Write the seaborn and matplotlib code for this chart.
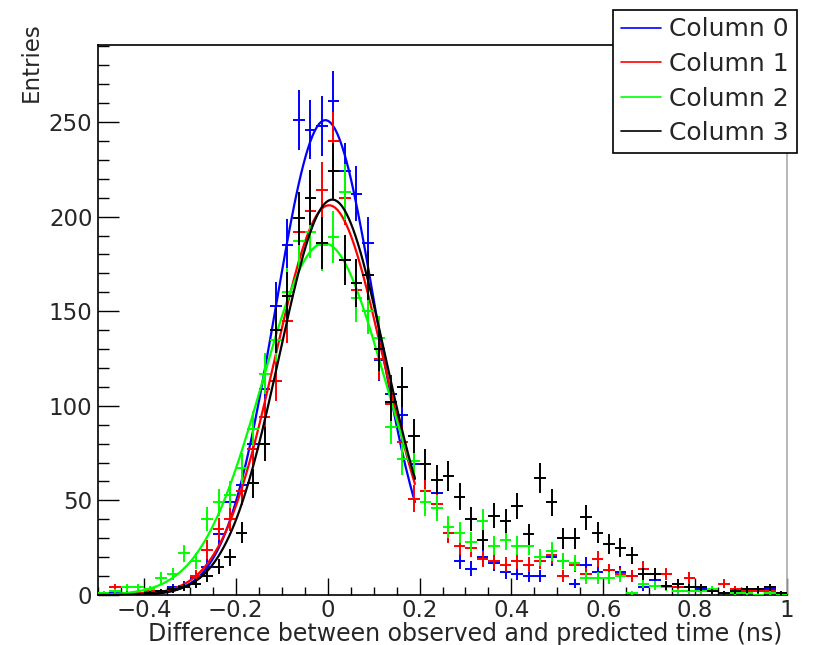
import numpy as np
import pandas as pd
import matplotlib
matplotlib.use("Agg")
import matplotlib.pyplot as plt
from matplotlib.lines import Line2D
from matplotlib.ticker import MultipleLocator, FixedLocator
import seaborn as sns

# ---------------- data ----------------
bin_edges_lo = -0.5
bin_width = 0.025
n_bins = 60

col0 = [0, 1, 0, 1, 1, 2, 4, 5, 9, 15, 32, 49,
        58, 80, 109, 153, 185, 251, 246, 248, 261, 224, 212, 186, 124, 106, 95, 69, 55,
        54, 33, 18, 14, 20, 17, 12, 11, 10, 10, 20, 18, 6, 16, 12, 13,
        12, 10, 4, 8, 5, 4, 4, 3, 2, 1, 2, 2, 3, 3, 1]
col1 = [1, 4, 1, 1, 2, 2, 3, 4, 10, 24, 35, 40,
        55, 77, 94, 113, 145, 192, 203, 214, 240, 210, 161, 150, 125, 101, 81, 51, 55,
        48, 33, 26, 25, 19, 18, 16, 18, 16, 18, 21, 10, 16, 11, 19, 13,
        11, 10, 14, 11, 11, 4, 9, 4, 2, 6, 3, 2, 2, 2, 1]
col2 = [1, 2, 4, 4, 3, 9, 11, 22, 18, 40, 49, 53,
        67, 88, 117, 135, 160, 187, 192, 185, 189, 213, 157, 150, 136, 89, 72, 71, 49,
        46, 36, 33, 28, 39, 26, 29, 26, 26, 20, 23, 18, 17, 9, 9, 9,
        10, 1, 6, 5, 4, 2, 2, 2, 3, 1, 1, 1, 0, 1, 0]
col3 = [0, 0, 0, 0, 1, 2, 3, 4, 6, 10, 15, 20,
        33, 59, 80, 140, 158, 199, 210, 186, 224, 177, 165, 169, 130, 102, 110, 84, 69,
        61, 63, 52, 40, 29, 42, 39, 47, 32, 62, 49, 30, 30, 41, 33, 27,
        25, 21, 11, 11, 5, 6, 4, 4, 2, 1, 2, 3, 3, 4, 1]

series_names = ["Column 0", "Column 1", "Column 2", "Column 3"]
series_values = [col0, col1, col2, col3]

# Gaussian fit parameters (amplitude, mean, sigma) per column
fit_amp = [251, 206, 186, 209]
fit_mean = [-0.005, 0.003, -0.008, 0.010]
fit_sigma = [0.108, 0.118, 0.134, 0.115]
fit_range = (-0.5, 0.19)

x_ticks_major = [-0.4, -0.2, 0, 0.2, 0.4, 0.6, 0.8, 1]
x_tick_labels = ["\u22120.4", "\u22120.2", "0", "0.2", "0.4", "0.6", "0.8", "1"]
y_ticks_major = [0, 50, 100, 150, 200, 250]

colors = ["#0000ff", "#ff0000", "#00ff00", "#000000"]

# ---------------- plot ----------------
sns.set_theme(style="white")
plt.rcParams["font.family"] = ["DejaVu Sans"]

fig = plt.figure(figsize=(8.13, 6.45), dpi=100)
ax = fig.add_axes([98 / 813, 50 / 645, 689 / 813, 550 / 645])

centers = bin_edges_lo + bin_width * (np.arange(n_bins) + 0.5)

rows = []
for name, vals in zip(series_names, series_values):
    for c, v in zip(centers, vals):
        rows.append({"series": name, "x": c, "n": v})
df = pd.DataFrame(rows)

xf = np.linspace(fit_range[0], fit_range[1], 140)
handles = []
for i, name in enumerate(series_names):
    sub = df[df["series"] == name]
    ax.errorbar(sub["x"], sub["n"], xerr=bin_width / 2, yerr=np.sqrt(sub["n"]),
                fmt="none", ecolor=colors[i], elinewidth=1.4, capsize=0, zorder=2 + i)
    yf = fit_amp[i] * np.exp(-(xf - fit_mean[i]) ** 2 / (2 * fit_sigma[i] ** 2))
    sns.lineplot(x=xf, y=yf, color=colors[i], lw=1.6, ax=ax, legend=False,
                 zorder=2.5 + i, estimator=None, sort=False)
    handles.append(Line2D([0], [0], color=colors[i], lw=1.2))

ax.set_xlim(-0.5, 1.0)
ax.set_ylim(0, 290.7)

ax.xaxis.set_major_locator(FixedLocator(x_ticks_major))
ax.set_xticklabels(x_tick_labels)
ax.xaxis.set_minor_locator(MultipleLocator(0.05))
ax.yaxis.set_major_locator(FixedLocator(y_ticks_major))
ax.yaxis.set_minor_locator(MultipleLocator(10))

ax.tick_params(axis="x", which="major", direction="in", length=12, width=1,
               color="black", labelsize=16.5, pad=3, bottom=True, top=False)
ax.tick_params(axis="x", which="minor", direction="in", length=6, width=1,
               color="black", bottom=True, top=False)
ax.tick_params(axis="y", which="major", direction="in", length=15, width=1,
               color="black", labelsize=16.5, pad=4, left=True, right=False)
ax.tick_params(axis="y", which="minor", direction="in", length=8, width=1,
               color="black", left=True, right=False)

for s in ["left", "bottom", "top"]:
    ax.spines[s].set_color("black")
    ax.spines[s].set_linewidth(1.2)
ax.spines["right"].set_color("#aaaaaa")
ax.spines["right"].set_linewidth(1.2)

ax.set_xlabel("Difference between observed and predicted time (ns)", fontsize=17)
ax.xaxis.set_label_coords((782 - 98) / 689, (595 - 634) / 550)
ax.xaxis.label.set_horizontalalignment("right")
ax.xaxis.label.set_verticalalignment("center")

ax.set_ylabel("Entries", fontsize=16.5)
ylab = ax.yaxis.label
ylab.set_rotation_mode("default")
ax.yaxis.set_label_coords((31 - 98) / 689, (595 - 22) / 550)
ylab.set_verticalalignment("top")
ylab.set_horizontalalignment("center")

leg = fig.legend(handles, series_names, loc="upper left",
                 bbox_to_anchor=(613 / 813, 1 - 10 / 645), bbox_transform=fig.transFigure,
                 fontsize=18, frameon=True, fancybox=False, shadow=False,
                 framealpha=1, edgecolor="black", handlelength=1.6,
                 handletextpad=0.35, labelspacing=0.42, borderpad=0.3,
                 borderaxespad=0)
leg.get_frame().set_linewidth(1.2)

fig.savefig("out.png", dpi=100, facecolor="white")
